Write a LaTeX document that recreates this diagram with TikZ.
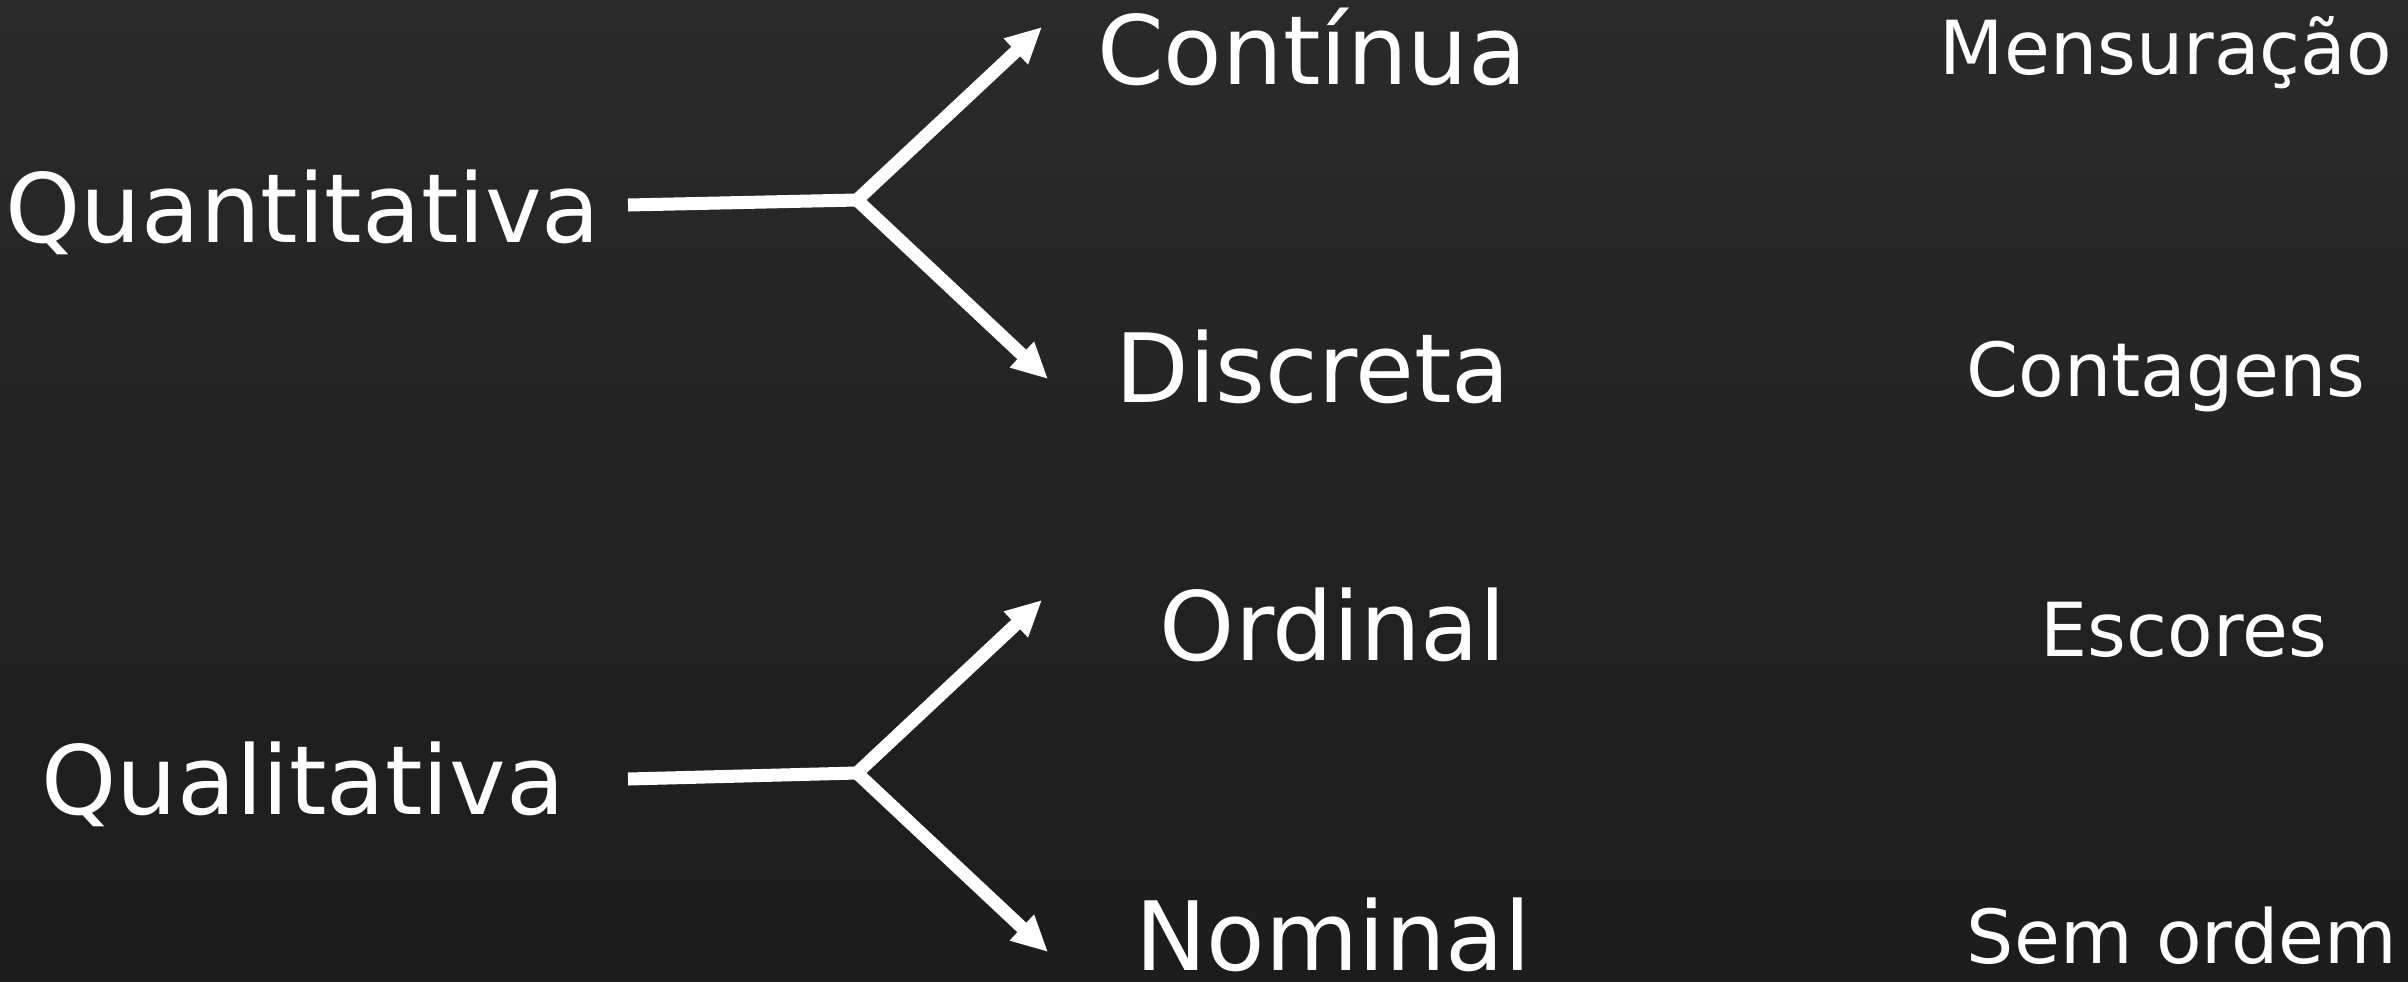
\documentclass[tikz,border=0pt]{standalone}
\usepackage{fontspec}
\setmainfont{DejaVu Sans}
\usetikzlibrary{arrows.meta}
\definecolor{bgtop}{HTML}{2A2A2A}
\definecolor{bgbot}{HTML}{1C1C1C}
\tikzset{
  big/.style={text=white, inner sep=0pt, anchor=base, font=\fontsize{27.2pt}{32pt}\selectfont},
  small/.style={text=white, inner sep=0pt, anchor=base, font=\fontsize{21.2pt}{25pt}\selectfont},
  conn/.style={draw=white, line width=3.7pt},
  arr/.style={conn, -{Triangle[length=10.2pt, width=9.4pt]}}
}
\begin{document}
\begin{tikzpicture}[x=0.01cm, y=-0.01cm]
\shade[top color=bgtop, bottom color=bgbot] (0,0) rectangle (2408,981);
\useasboundingbox (0,0) rectangle (2408,981);
% left column
\node[big] (quant) at (303,242) {Quantitativa};
\node[big] (qual) at (303,814) {Qualitativa};
% middle column
\node[big] (cont) at (1312,84) {Contínua};
\node[big] (disc) at (1313,402) {Discreta};
\node[big] (ord) at (1333,660) {Ordinal};
\node[big] (nom) at (1333,970) {Nominal};
% right column
\node[small] (mens) at (2166,74) {Mensuração};
\node[small] (cntg) at (2166,396) {Contagens};
\node[small] (esc) at (2184,656) {Escores};
\node[small] (sem) at (2182,963) {Sem ordem};
% connectors
\coordinate (s1) at (628,205);
\coordinate (j1) at (857,200);
\coordinate (t1) at (1042,27);
\coordinate (t2) at (1048,379);
\coordinate (s2) at (628,779);
\coordinate (j2) at (857,773);
\coordinate (t3) at (1042,600);
\coordinate (t4) at (1048,952);
\draw[arr] (s1) -- (j1) -- (t1);
\draw[arr] (j1) -- (t2);
\draw[arr] (s2) -- (j2) -- (t3);
\draw[arr] (j2) -- (t4);
\end{tikzpicture}
\end{document}
